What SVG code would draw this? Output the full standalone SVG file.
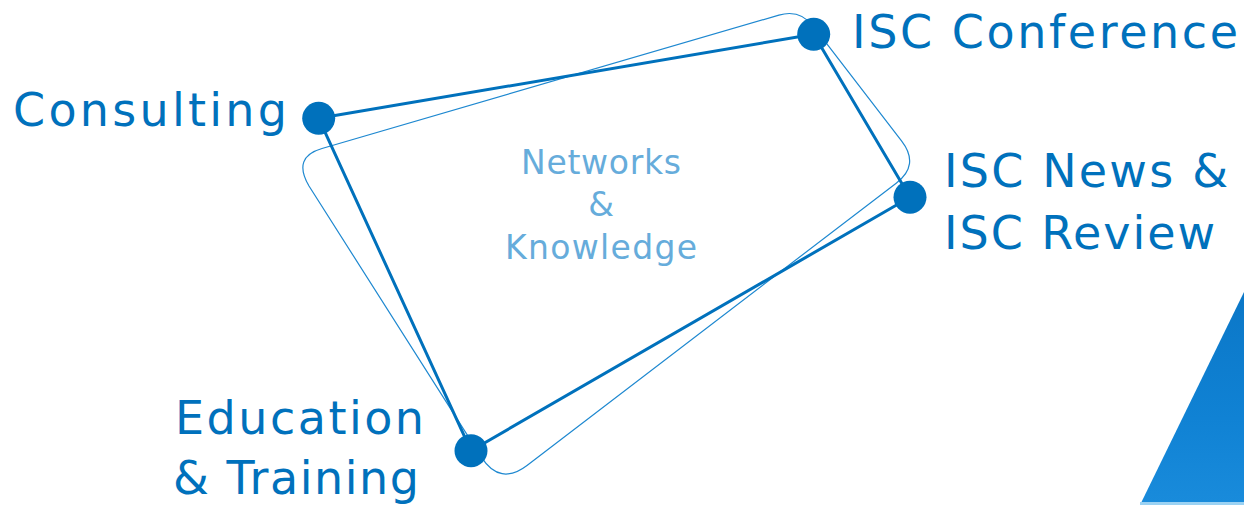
<svg xmlns="http://www.w3.org/2000/svg" width="1244" height="506" viewBox="0 0 1244 506">
  <style>
    .lbl { font-family: "DejaVu Sans", "Open Sans", sans-serif; font-size: 46px; fill: #0071BC; }
    .ctr { font-family: "DejaVu Sans", "Open Sans", sans-serif; font-size: 33px; fill: #66ACDB; text-anchor: middle; }
    .edge { fill: none; stroke: #0071BC; stroke-width: 3; stroke-linecap: round; }
    .frame { fill: none; stroke: #1E88D0; stroke-width: 1.2; }
    .dot { fill: #0071BC; }
  </style>
  <defs>
    <linearGradient id="tri" x1="0" y1="0" x2="0" y2="1">
      <stop offset="0" stop-color="#0B77C7"/>
      <stop offset="0.6" stop-color="#1082D4"/>
      <stop offset="1" stop-color="#198BDB"/>
    </linearGradient>
  </defs>
  <rect width="1244" height="506" fill="#FFFFFF"/>

  <g id="corner-shape">
    <polygon points="1244,292 1141,503 1244,503" fill="url(#tri)"/>
    <rect x="1140" y="502" width="104" height="3" fill="#9BD2F3"/>
  </g>

  <g id="frame">
    <path class="frame" d="M322,148.5 L778.9,15.1 Q800,9 813.4,26.4 L901.7,141.2 Q920,165 896.2,183.2 L527,465.4 Q500,486 481.5,457.4 L309,186 Q292,157 322,148.5 Z"/>
  </g>

  <g id="connectors">
    <line class="edge" x1="318.7" y1="118.3" x2="813.7" y2="34.3"/>
    <line class="edge" x1="813.7" y1="34.3" x2="910" y2="197.2"/>
    <line class="edge" x1="910" y1="197.2" x2="471" y2="450.7"/>
    <line class="edge" x1="471" y1="450.7" x2="318.7" y2="118.3"/>
  </g>

  <g id="center">
    <text class="ctr" x="601" y="173.5" textLength="160">Networks</text>
    <text class="ctr" x="601" y="216">&amp;</text>
    <text class="ctr" x="601" y="258.5" textLength="192">Knowledge</text>
  </g>

  <g id="node-consulting">
    <circle class="dot" cx="318.7" cy="118.3" r="16.5"/>
    <text class="lbl" x="13" y="126" textLength="274">Consulting</text>
  </g>

  <g id="node-conference">
    <circle class="dot" cx="813.7" cy="34.3" r="16.5"/>
    <text class="lbl" x="852" y="47.5" textLength="386">ISC Conference</text>
  </g>

  <g id="node-news">
    <circle class="dot" cx="910" cy="197.2" r="16.5"/>
    <text class="lbl" x="944" y="187" textLength="284">ISC News &amp;</text>
    <text class="lbl" x="944" y="248.5" textLength="271">ISC Review</text>
  </g>

  <g id="node-education">
    <circle class="dot" cx="471" cy="450.7" r="16.5"/>
    <text class="lbl" x="175" y="433.5" textLength="249">Education</text>
    <text class="lbl" x="173" y="493.5" textLength="246">&amp; Training</text>
  </g>
</svg>
